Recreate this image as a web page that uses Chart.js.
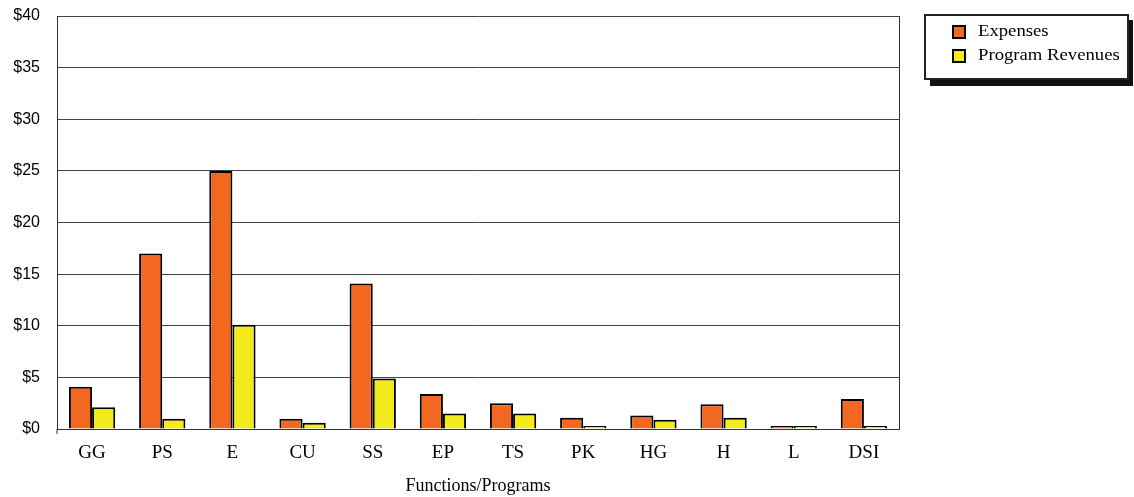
<!DOCTYPE html>
<html>
<head>
<meta charset="utf-8">
<script src="https://cdn.jsdelivr.net/npm/chart.js@4"></script>
<style>
  body { margin: 0; background: #fff; }
  #wrap { width: 1134px; height: 497px; }
</style>
</head>
<body>
<div id="wrap"><canvas id="c" width="1134" height="497"></canvas></div>
<script>
// categories and values (millions of dollars)
const categories = ["GG", "PS", "E", "CU", "SS", "EP", "TS", "PK", "HG", "H", "L", "DSI"];
const expenses = [4.1, 17.0, 25.0, 1.0, 14.1, 3.4, 2.5, 1.1, 1.3, 2.4, 0.2, 2.9];
const programRevenues = [2.1, 1.0, 10.1, 0.6, 4.9, 1.5, 1.5, 0.1, 0.9, 1.1, 0.05, 0.2];
const seriesNames = ["Expenses", "Program Revenues"];
const seriesColors = ["#F36821", "#F2EA1A"];

// frame around plot area + boxed legend with shadow
const framePlugin = {
  id: "frame",
  afterDraw(chart) {
    const ctx = chart.ctx;
    const a = chart.chartArea;
    ctx.save();
    ctx.strokeStyle = "#333";
    ctx.lineWidth = 1;
    ctx.beginPath();
    ctx.moveTo(a.right + 0.5, a.top);
    ctx.lineTo(a.right + 0.5, a.bottom);
    ctx.moveTo(a.left, a.bottom);
    ctx.lineTo(a.left, a.bottom + 5);
    ctx.stroke();

    // legend box
    const lx = 925, ly = 15, lw = 203, lh = 64;
    ctx.fillStyle = "#111";
    ctx.fillRect(lx + 5, ly + 5, lw, lh + 2);
    ctx.fillStyle = "#fff";
    ctx.fillRect(lx, ly, lw, lh);
    ctx.strokeStyle = "#222";
    ctx.lineWidth = 2;
    ctx.strokeRect(lx, ly, lw, lh);
    ctx.font = "17px 'Liberation Serif', 'Times New Roman', serif";
    ctx.textBaseline = "middle";
    seriesNames.forEach((name, i) => {
      const y = ly + 17 + i * 24;
      ctx.fillStyle = seriesColors[i];
      ctx.fillRect(lx + 28, y - 6, 12, 12);
      ctx.strokeStyle = "#000";
      ctx.lineWidth = 2;
      ctx.strokeRect(lx + 28, y - 6, 12, 12);
      ctx.fillStyle = "#000";
      ctx.save();
      ctx.translate(lx + 53, y);
      ctx.scale(1.1, 1);
      ctx.fillText(name, 0, 0);
      ctx.restore();
    });
    ctx.restore();
  }
};

new Chart(document.getElementById("c"), {
  type: "bar",
  data: {
    labels: categories,
    datasets: [
      { label: seriesNames[0], data: expenses, backgroundColor: seriesColors[0], borderColor: "#000", borderWidth: 2, minBarLength: 3 },
      { label: seriesNames[1], data: programRevenues, backgroundColor: seriesColors[1], borderColor: "#000", borderWidth: 2, minBarLength: 3 }
    ]
  },
  options: {
    responsive: false,
    animation: false,
    layout: { padding: { top: 16, right: 235, left: 0, bottom: 0 } },
    plugins: { legend: { display: false }, tooltip: { enabled: false } },
    datasets: { bar: { barPercentage: 1.0, categoryPercentage: 0.66 } },
    scales: {
      x: {
        grid: { display: false, drawTicks: false },
        border: { color: "#333", width: 1 },
        ticks: { color: "#000", padding: 13, font: { family: "'Liberation Serif', serif", size: 19 } },
        title: { display: true, text: "Functions/Programs", color: "#000", padding: { top: 0, bottom: 0 }, font: { family: "'Liberation Serif', serif", size: 18 } },
        afterFit: s => { s.height = 68; s.paddingLeft = 0; s.paddingRight = 0; }
      },
      y: {
        min: 0, max: 40,
        ticks: { stepSize: 5, color: "#000", padding: 17, callback: v => "$" + v, font: { family: "'Liberation Sans', Arial, sans-serif", size: 16 } },
        grid: { color: "#444", lineWidth: 1, drawTicks: false },
        border: { color: "#333", width: 1 },
        afterFit: s => { s.width = 57; s.paddingTop = 0; s.paddingBottom = 0; }
      }
    }
  },
  plugins: [framePlugin]
});
</script>
</body>
</html>
